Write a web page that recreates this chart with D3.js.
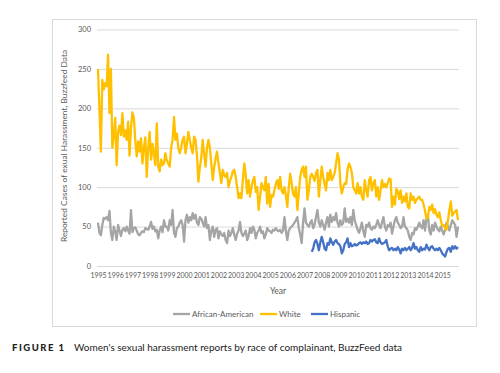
<!DOCTYPE html>
<html>
<head>
<meta charset="utf-8">
<script src="https://cdn.jsdelivr.net/npm/d3@7"></script>
<style>
  body { margin: 0; background: #fff; }
  text { font-family: Lato, "Open Sans", sans-serif; }
</style>
</head>
<body>
<svg id="chart" width="500" height="373"></svg>
<script>
// tick labels (one per January)
var years = ["1995","1996","1997","1998","1999","2000","2001","2002","2003","2004","2005",
             "2006","2007","2008","2009","2010","2011","2012","2013","2014","2015"]

var yTicks = [0, 50, 100, 150, 200, 250, 300]

// monthly counts, Jan 1995 .. Dec 2015
var white = [
  250, 200, 145, 236, 224, 232, 228, 268, 194, 250, 150, 165,
  188, 128, 170, 178, 166, 194, 164, 172, 160, 183, 140, 176,
  195, 188, 160, 139, 158, 145, 162, 130, 150, 163, 113, 150,
  170, 135, 155, 142, 128, 181, 126, 120, 135, 128, 130, 143,
  134, 130, 126, 150, 160, 189, 160, 168, 150, 143, 150, 160,
  164, 143, 155, 170, 160, 150, 143, 164, 160, 140, 107, 125,
  137, 160, 143, 126, 150, 160, 150, 130, 109, 125, 137, 145,
  130, 118, 105, 122, 115, 113, 118, 100, 108, 113, 120, 122,
  113, 100,  86,  92,  86, 110, 130, 115,  92, 109,  88, 100,
  108, 113,  94, 100,  71,  88, 105, 100,  96, 113,  79, 104,
   75,  90,  88,  96, 104, 109,  98, 113,  96,  92, 100,  90,
   75, 100, 117, 105,  92,  88, 100,  71,  92, 113, 122, 126,
  113, 126,  84,  96, 113, 117, 113, 108, 118, 122,  88, 109,
  126, 113, 104,  96, 118, 109, 122, 109, 113, 118, 130, 143,
  135, 104,  92, 100, 105, 104, 122, 130, 126, 118, 100,  96,
   92, 105,  92, 100,  88,  84, 109,  96,  88, 109, 113,  96,
  105, 109,  88, 100,  84,  96, 109, 100, 104, 100, 105, 111,
  110,  75,  88,  78,  98,  95,  85,  96,  80,  88,  82,  92,
   75,  73,  92,  84,  88,  80,  84,  86,  88,  84,  84,  78,
   70,  60,  62,  75,  71,  78,  67,  72,  65,  62,  68,  58,
   51,  52,  48,  46,  58,  71,  82,  64,  67,  69,  71,  58
]

var african = [
  55, 42, 39, 52, 61, 60, 62, 58, 70, 42, 33, 50,
  44, 33, 52, 45, 38, 46, 48, 44, 50, 45, 41, 71,
  43, 48, 49, 45, 40, 39, 42, 44, 43, 48, 47, 46,
  50, 56, 47, 50, 44, 46, 35, 45, 50, 43, 58, 50,
  50, 45, 58, 52, 71, 42, 37, 48, 50, 55, 58, 52,
  31, 58, 65, 55, 62, 58, 67, 60, 65, 55, 52, 62,
  60, 55, 50, 62, 48, 52, 33, 45, 50, 37, 46, 48,
  35, 44, 40, 38, 42, 33, 29, 45, 38, 42, 48, 40,
  33, 41, 45, 56, 42, 38, 41, 45, 33, 38, 48, 42,
  50, 46, 35, 42, 45, 50, 42, 44, 35, 40, 48, 45,
  44, 42, 46, 45, 48, 45, 44, 46, 42, 45, 62, 44,
  33, 45, 48, 50, 52, 55, 58, 62, 48, 40, 29, 55,
  73, 55, 52, 50, 55, 58, 48, 52, 62, 71, 55, 50,
  58, 52, 46, 55, 62, 50, 65, 56, 62, 58, 67, 55,
  50, 58, 52, 55, 73, 56, 60, 55, 62, 52, 71, 58,
  52, 46, 42, 48, 55, 44, 37, 52, 50, 55, 48, 46,
  50, 48, 52, 58, 52, 48, 55, 62, 50, 45, 52, 50,
  55, 41, 50, 58, 62, 55, 52, 48, 50, 62, 50, 48,
  45, 37, 33, 42, 40, 48, 46, 50, 55, 50, 48, 58,
  45, 60, 65, 45, 40, 52, 45, 55, 50, 46, 44, 50,
  45, 40, 46, 55, 50, 45, 52, 58, 55, 52, 37, 50
]

// Hispanic series begins in June 2007 (month index 149)
var hispanicStart = 149
var hispanic = [
                          18, 22, 30, 33, 28, 20, 30,
  37, 30, 22, 20, 29, 27, 35, 30, 27, 31, 33, 29,
  28, 25, 16, 20, 28, 30, 35, 24, 29, 25, 26, 28,
  26, 27, 29, 30, 28, 30, 29, 31, 28, 29, 33, 31,
  33, 34, 30, 29, 35, 30, 28, 29, 30, 33, 25, 20,
  22, 23, 20, 22, 20, 24, 21, 16, 22, 20, 23, 20,
  22, 24, 20, 23, 29, 22, 24, 20, 18, 24, 20, 22,
  21, 27, 23, 20, 24, 25, 22, 20, 22, 20, 23, 20,
  16, 14, 12, 18, 22, 23, 18, 25, 22, 25, 22, 24
]

var series = [
  { name: "African-American", color: "#A5A5A5", values: african, start: 0 },
  { name: "White", color: "#FFC000", values: white, start: 0 },
  { name: "Hispanic", color: "#4472C4", values: hispanic, start: hispanicStart }
]

var svg = d3.select("#chart")
var textColor = "#595959"
var gridColor = "#d9d9d9"

// chart frame
svg.append("rect")
  .attr("x", 52.5).attr("y", 19.5)
  .attr("width", 424).attr("height", 307)
  .attr("fill", "#fff")
  .attr("stroke", gridColor)

var x = d3.scaleLinear().domain([0, white.length - 1]).range([98, 458])
var y = d3.scaleLinear().domain([0, 300]).range([266, 29.5])

// gridlines + y labels
var yAxis = svg.append("g")
  .attr("transform", "translate(97,0)")
  .call(d3.axisLeft(y).tickValues(yTicks).tickSize(-362).tickPadding(6))
yAxis.select(".domain").remove()
yAxis.selectAll("line").attr("stroke", gridColor)
yAxis.selectAll("text").attr("fill", textColor).style("font-size", "7.5px")

// x labels
var xAxis = svg.append("g")
  .attr("transform", "translate(0,266)")
  .call(d3.axisBottom(x)
    .tickValues(years.map(function (d, i) { return i * 12 }))
    .tickFormat(function (d) { return years[d / 12] })
    .tickSize(0).tickPadding(7))
xAxis.select(".domain").remove()
xAxis.selectAll("text").attr("fill", textColor).style("font-size", "7px")

svg.append("text")
  .attr("x", 278).attr("y", 294)
  .attr("text-anchor", "middle")
  .attr("fill", textColor)
  .style("font-size", "8.5px")
  .text("Year")

svg.append("text")
  .attr("transform", "translate(67,146) rotate(-90)")
  .attr("text-anchor", "middle")
  .attr("fill", textColor)
  .style("font-size", "8.4px")
  .text("Reported Cases of exual Harassment, Buzzfeed Data")

// lines
var line = d3.line()
  .x(function (d) { return x(d.i) })
  .y(function (d) { return y(d.v) })

series.forEach(function (s) {
  var pts = s.values.map(function (v, k) { return { i: s.start + k, v: v } })
  svg.append("path")
    .datum(pts)
    .attr("d", line)
    .attr("fill", "none")
    .attr("stroke", s.color)
    .attr("stroke-width", 2.3)
    .attr("stroke-linejoin", "round")
})

// legend
var legendX = [173, 260, 311]
var legend = svg.append("g")
series.forEach(function (s, k) {
  var g = legend.append("g").attr("transform", "translate(" + legendX[k] + ",314)")
  g.append("line")
    .attr("x1", 0).attr("x2", 17)
    .attr("stroke", s.color).attr("stroke-width", 2.3)
  g.append("text")
    .attr("x", 19).attr("y", 2.8)
    .attr("fill", textColor)
    .style("font-size", "8px")
    .text(s.name)
})

// caption
svg.append("text")
  .attr("x", 12).attr("y", 351)
  .attr("fill", "#222")
  .style("font-size", "9.5px")
  .style("font-weight", "900")
  .style("letter-spacing", "1.5px")
  .text("FIGURE 1")

svg.append("text")
  .attr("x", 74).attr("y", 351)
  .attr("fill", "#222")
  .style("font-size", "10px")
  .text("Women's sexual harassment reports by race of complainant, BuzzFeed data")
</script>
</body>
</html>
